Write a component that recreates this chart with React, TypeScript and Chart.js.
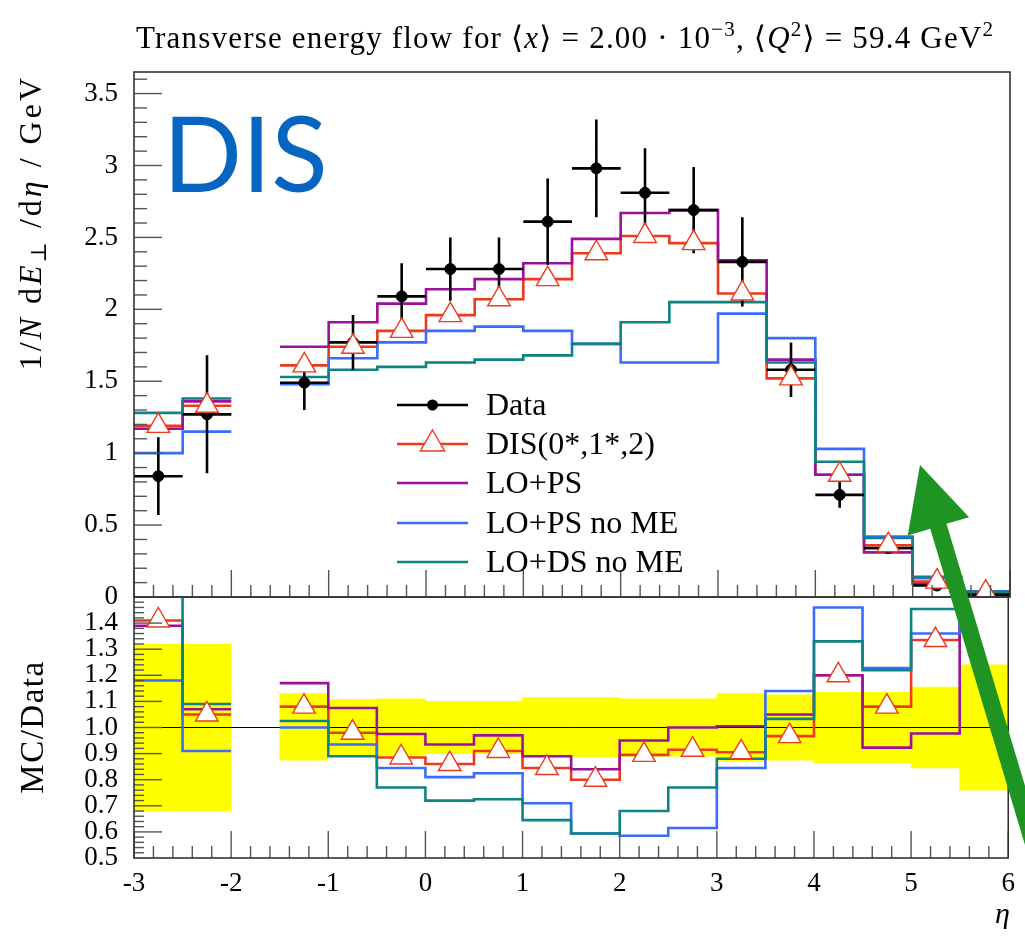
import React, { useEffect, useRef } from 'react';
import { Chart, registerables } from 'chart.js';

Chart.register(...registerables);

// ---------------- data ----------------
const binEdges = [-3, -2.5, -2, -1.5, -1, -0.5, 0, 0.5, 1, 1.5, 2, 2.5, 3, 3.5, 4, 4.5, 5, 5.5, 6];
const binCenters = [-2.75, -2.25, -1.75, -1.25, -0.75, -0.25, 0.25, 0.75, 1.25, 1.75, 2.25, 2.75, 3.25, 3.75, 4.25, 4.75, 5.25, 5.75];

const dataValues = [0.84, 1.27, null, 1.49, 1.77, 2.09, 2.28, 2.28, 2.61, 2.98, 2.81, 2.69, 2.33, 1.58, 0.71, 0.34, 0.08, 0.015];
const dataErrors = [0.27, 0.41, null, 0.19, 0.19, 0.23, 0.22, 0.22, 0.30, 0.34, 0.31, 0.30, 0.31, 0.19, 0.09, 0.03, 0.012, 0.005];
const disValues = [1.19, 1.33, null, 1.61, 1.74, 1.85, 1.96, 2.07, 2.21, 2.39, 2.51, 2.46, 2.11, 1.52, 0.85, 0.36, 0.107, 0.03];
const loPsValues = [1.17, 1.36, null, 1.74, 1.91, 2.04, 2.14, 2.21, 2.32, 2.49, 2.67, 2.69, 2.34, 1.65, 0.85, 0.31, 0.09, 0.02];
const loPsNoMeValues = [1.0, 1.15, null, 1.48, 1.66, 1.77, 1.85, 1.88, 1.85, 1.76, 1.63, 1.63, 1.97, 1.8, 1.03, 0.42, 0.13, 0.04];
const loDsNoMeValues = [1.28, 1.38, null, 1.53, 1.58, 1.6, 1.63, 1.65, 1.68, 1.76, 1.91, 2.05, 2.05, 1.63, 0.94, 0.41, 0.14, 0.037];

const ratioDis = [1.41, 1.05, null, 1.08, 0.98, 0.885, 0.86, 0.91, 0.845, 0.8, 0.895, 0.915, 0.905, 0.967, 1.2, 1.08, 1.335, 2.0];
const ratioLoPs = [1.39, 1.07, null, 1.17, 1.075, 0.975, 0.935, 0.97, 0.89, 0.84, 0.95, 1.0, 1.005, 1.05, 1.2, 0.923, 0.977, 1.7];
const ratioLoPsNoMe = [1.18, 0.91, null, 1.0, 0.935, 0.845, 0.81, 0.825, 0.71, 0.594, 0.585, 0.615, 0.845, 1.14, 1.46, 1.228, 1.36, 2.5];
const ratioLoDsNoMe = [1.52, 1.09, null, 1.025, 0.89, 0.77, 0.72, 0.725, 0.645, 0.594, 0.68, 0.77, 0.88, 1.033, 1.33, 1.22, 1.454, 2.4];
const bandLow = [0.68, 0.68, null, 0.875, 0.893, 0.89, 0.9, 0.9, 0.886, 0.886, 0.89, 0.89, 0.87, 0.875, 0.865, 0.865, 0.845, 0.76];
const bandHigh = [1.32, 1.32, null, 1.13, 1.107, 1.11, 1.1, 1.1, 1.115, 1.115, 1.11, 1.11, 1.13, 1.125, 1.135, 1.135, 1.155, 1.24];

const topTickLabels = [0, 0.5, 1, 1.5, 2, 2.5, 3, 3.5];
const ratioTickLabels = [0.5, 0.6, 0.7, 0.8, 0.9, 1.0, 1.1, 1.2, 1.3, 1.4];
const xTickLabels = [-3, -2, -1, 0, 1, 2, 3, 4, 5, 6];
const legendLabels = ['Data', 'DIS(0*,1*,2)', 'LO+PS', 'LO+PS no ME', 'LO+DS no ME'];

// ---------------- styles ----------------
const C_RED = '#ee3a1c';
const C_PURPLE = '#9b119b';
const C_BLUE = '#3a6cff';
const C_TEAL = '#0d8383';
const legendColors = ['#000000', C_RED, C_PURPLE, C_BLUE, C_TEAL];
const SERIF = '"Liberation Serif", "DejaVu Serif", serif';

// ---------------- helpers ----------------
function stepPoints(values: (number | null)[]) {
  const pts: { x: number; y: number | null }[] = [];
  values.forEach((v, i) => {
    const lo = binEdges[i];
    const hi = binEdges[i + 1];
    if (v === null) {
      pts.push({ x: (lo + hi) / 2, y: null });
      return;
    }
    pts.push({ x: lo, y: v }, { x: hi, y: v });
  });
  return pts;
}

function markerPoints(values: (number | null)[]) {
  const pts: { x: number; y: number }[] = [];
  values.forEach((v, i) => {
    if (v !== null) pts.push({ x: binCenters[i], y: v });
  });
  return pts;
}

function errorBarPoints(values: (number | null)[], errors: (number | null)[]) {
  const pts: { x: number; y: number | null }[] = [];
  values.forEach((v, i) => {
    if (v === null) return;
    const e = errors[i] as number;
    const c = binCenters[i];
    pts.push({ x: binEdges[i], y: v }, { x: binEdges[i + 1], y: v }, { x: c, y: null });
    pts.push({ x: c, y: v - e }, { x: c, y: v + e }, { x: c, y: null });
  });
  return pts;
}

function bandBars() {
  const pts: { x: number; y: [number, number] }[] = [];
  bandLow.forEach((lo, i) => {
    const hi = bandHigh[i];
    if (lo !== null && hi !== null) pts.push({ x: binCenters[i], y: [lo, hi] });
  });
  return pts;
}

const histLine = (label: string, color: string, values: (number | null)[], order: number) => ({
  type: 'line' as const,
  label,
  data: stepPoints(values),
  borderColor: color,
  borderWidth: 2.6,
  pointRadius: 0,
  fill: false,
  spanGaps: false,
  tension: 0,
  order,
});

const triangleSet = (values: (number | null)[]) => ({
  type: 'line' as const,
  label: 'DIS markers',
  data: markerPoints(values),
  showLine: false,
  pointStyle: 'triangle',
  pointRadius: 13,
  pointHoverRadius: 13,
  pointBorderColor: C_RED,
  pointBackgroundColor: '#ffffff',
  pointBorderWidth: 1.4,
  order: 0,
});

// ---------------- plugins ----------------
const rootTicks = {
  id: 'rootTicks',
  afterDatasetsDraw(chart: any, _args: any, opts: any) {
    const { ctx, chartArea: ca, scales } = chart;
    const xs = scales.x;
    const ys = scales.y;
    ctx.save();
    ctx.strokeStyle = '#555';
    ctx.lineWidth = 1.4;
    const seg = (a: number, b: number, c: number, d: number) => {
      ctx.beginPath();
      ctx.moveTo(a, b);
      ctx.lineTo(c, d);
      ctx.stroke();
    };
    const nY = Math.round((opts.yMax - opts.yMin) / opts.yStep);
    for (let i = 0; i <= nY; i++) {
      const v = opts.yMin + i * opts.yStep;
      const py = ys.getPixelForValue(v);
      if (py < ca.top + 1 || py > ca.bottom - 1) continue;
      const len = i % opts.yMajorEvery === 0 ? 28 : opts.yMinorLen;
      seg(ca.left, py, ca.left + len, py);
    }
    for (let i = 0; i <= 45; i++) {
      const v = -3 + i * 0.2;
      const px = xs.getPixelForValue(v);
      const len = i % 5 === 0 ? 27 : 12;
      seg(px, ca.bottom, px, ca.bottom - len);
    }
    ctx.strokeStyle = '#333';
    ctx.lineWidth = 1.6;
    ctx.strokeRect(ca.left, ca.top, ca.right - ca.left, ca.bottom - ca.top);
    ctx.restore();
  },
};

const legendPlugin = {
  id: 'rootLegend',
  afterDraw(chart: any) {
    const ctx = chart.ctx;
    ctx.save();
    const x0 = 397;
    const x1 = 468;
    const xm = 432.5;
    const tx = 486;
    const rows = [405, 444, 483, 523, 562];
    legendLabels.forEach((label, i) => {
      const y = rows[i];
      ctx.strokeStyle = legendColors[i];
      ctx.lineWidth = 2.6;
      ctx.beginPath();
      ctx.moveTo(x0, y);
      ctx.lineTo(x1, y);
      ctx.stroke();
      if (i === 0) {
        ctx.fillStyle = '#000';
        ctx.beginPath();
        ctx.arc(xm, y, 5.5, 0, Math.PI * 2);
        ctx.fill();
      }
      if (i === 1) {
        const r = 14;
        ctx.beginPath();
        ctx.moveTo(xm, y - r);
        ctx.lineTo(xm + 0.866 * r, y + 0.5 * r);
        ctx.lineTo(xm - 0.866 * r, y + 0.5 * r);
        ctx.closePath();
        ctx.fillStyle = '#fff';
        ctx.fill();
        ctx.lineWidth = 1.4;
        ctx.strokeStyle = C_RED;
        ctx.stroke();
      }
      ctx.fillStyle = '#000';
      ctx.font = `32px ${SERIF}`;
      ctx.textBaseline = 'alphabetic';
      ctx.textAlign = 'left';
      ctx.fillText(label, tx, y + 10);
    });
    // big DIS label
    ctx.font = '104px Lato, "Open Sans", sans-serif';
    ctx.fillStyle = '#0565c0';
    ctx.fillText('DIS', 163, 192);
    ctx.restore();
  },
};

// ---------------- component ----------------
export default function App() {
  const topRef = useRef<HTMLCanvasElement | null>(null);
  const botRef = useRef<HTMLCanvasElement | null>(null);

  useEffect(() => {
    document.body.style.margin = '0';
    const tickFont = { family: SERIF, size: 27 };

    const topChart = new Chart(topRef.current as HTMLCanvasElement, {
      type: 'line',
      data: {
        datasets: [
          triangleSet(disValues),
          {
            type: 'line',
            label: 'Data',
            data: markerPoints(dataValues),
            showLine: false,
            pointRadius: 5.5,
            pointHoverRadius: 5.5,
            pointBackgroundColor: '#000',
            pointBorderColor: '#000',
            order: 1,
          },
          {
            type: 'line',
            label: 'Data errors',
            data: errorBarPoints(dataValues, dataErrors),
            borderColor: '#000',
            borderWidth: 2.6,
            pointRadius: 0,
            spanGaps: false,
            order: 2,
          },
          histLine('LO+DS no ME', C_TEAL, loDsNoMeValues, 3),
          histLine('LO+PS no ME', C_BLUE, loPsNoMeValues, 4),
          histLine('LO+PS', C_PURPLE, loPsValues, 5),
          histLine('DIS(0*,1*,2)', C_RED, disValues, 6),
        ] as any,
      },
      options: {
        responsive: false,
        devicePixelRatio: 1,
        animation: false,
        events: [],
        layout: { padding: { left: 0, right: 15, top: 72, bottom: 43 }, autoPadding: false },
        plugins: {
          legend: { display: false },
          tooltip: { enabled: false },
          rootTicks: { yMin: 0, yMax: 3.6, yStep: 0.1, yMajorEvery: 5, yMinorLen: 13 },
        } as any,
        scales: {
          x: { type: 'linear', min: -3, max: 6, offset: false, display: false },
          y: {
            type: 'linear',
            min: 0,
            max: 3.65,
            grid: { display: false, drawTicks: false },
            border: { display: false },
            ticks: {
              font: tickFont,
              color: '#000',
              padding: 16,
              autoSkip: false,
              callback: (v: any) => String(v),
            },
            afterBuildTicks: (s: any) => {
              s.ticks = topTickLabels.map((v) => ({ value: v }));
            },
            afterFit: (s: any) => {
              s.width = 134;
            },
          },
        },
      },
      plugins: [rootTicks, legendPlugin],
    });

    const botChart = new Chart(botRef.current as HTMLCanvasElement, {
      type: 'line',
      data: {
        datasets: [
          triangleSet(ratioDis),
          histLine('LO+DS no ME', C_TEAL, ratioLoDsNoMe, 3),
          histLine('LO+PS no ME', C_BLUE, ratioLoPsNoMe, 4),
          histLine('LO+PS', C_PURPLE, ratioLoPs, 5),
          histLine('DIS(0*,1*,2)', C_RED, ratioDis, 6),
          {
            type: 'line',
            label: 'unity',
            data: [
              { x: -3, y: 1 },
              { x: 6, y: 1 },
            ],
            borderColor: '#000',
            borderWidth: 1,
            pointRadius: 0,
            order: 7,
          },
          {
            type: 'bar',
            label: 'Data uncertainty',
            data: bandBars(),
            backgroundColor: '#ffff00',
            borderWidth: 0,
            barPercentage: 1,
            categoryPercentage: 1,
            grouped: false,
            order: 8,
          },
        ] as any,
      },
      options: {
        responsive: false,
        devicePixelRatio: 1,
        animation: false,
        events: [],
        layout: { padding: { left: 0, right: 15, top: 37, bottom: 0 }, autoPadding: false },
        plugins: {
          legend: { display: false },
          tooltip: { enabled: false },
          rootTicks: { yMin: 0.5, yMax: 1.5, yStep: 0.02, yMajorEvery: 5, yMinorLen: 10 },
        } as any,
        scales: {
          x: {
            type: 'linear',
            min: -3,
            max: 6,
            offset: false,
            grid: { display: false, drawTicks: false },
            border: { display: false },
            ticks: {
              font: tickFont,
              color: '#000',
              padding: 10,
              autoSkip: false,
              maxRotation: 0,
              callback: (v: any) => String(v),
            },
            afterBuildTicks: (s: any) => {
              s.ticks = xTickLabels.map((v) => ({ value: v }));
            },
            afterFit: (s: any) => {
              s.height = 84;
            },
          },
          y: {
            type: 'linear',
            min: 0.5,
            max: 1.5,
            grid: { display: false, drawTicks: false },
            border: { display: false },
            ticks: {
              font: tickFont,
              color: '#000',
              padding: 16,
              autoSkip: false,
              callback: (v: any) => Number(v).toFixed(1),
            },
            afterBuildTicks: (s: any) => {
              s.ticks = ratioTickLabels.map((v) => ({ value: v }));
            },
            afterFit: (s: any) => {
              s.width = 134;
            },
          },
        },
      },
      plugins: [rootTicks],
    });

    return () => {
      topChart.destroy();
      botChart.destroy();
    };
  }, []);

  // arrow annotation geometry
  const tip = { x: 920, y: 465 };
  const d = { x: 0.287, y: 0.958 };
  const n = { x: 0.958, y: -0.287 };
  const B = { x: tip.x + 64 * d.x, y: tip.y + 64 * d.y };
  const E = { x: tip.x + 440 * d.x, y: tip.y + 440 * d.y };
  const P = (p: { x: number; y: number }, k: number) => `${p.x + k * n.x},${p.y + k * n.y}`;
  const arrowPts = [`${tip.x},${tip.y}`, P(B, 32), P(B, 8.5), P(E, 8.5), P(E, -8.5), P(B, -8.5), P(B, -32)].join(' ');

  const supStyle: React.CSSProperties = { fontSize: '0.68em', verticalAlign: '0.55em', lineHeight: 0 };
  const subStyle: React.CSSProperties = { fontSize: '0.68em', verticalAlign: '-0.25em', lineHeight: 0 };

  return (
    <div style={{ position: 'relative', width: 1025, height: 942, overflow: 'hidden', background: '#fff' }}>
      <canvas ref={topRef} width={1025} height={640} style={{ position: 'absolute', left: 0, top: 0, display: 'block' }} />
      <canvas ref={botRef} width={1025} height={382} style={{ position: 'absolute', left: 0, top: 560, display: 'block' }} />
      <div
        style={{
          position: 'absolute',
          left: 136,
          top: 20,
          fontFamily: SERIF,
          fontSize: 31,
          letterSpacing: '1.2px',
          lineHeight: '36px',
          whiteSpace: 'nowrap',
          color: '#000',
        }}
      >
        Transverse energy flow for ⟨<i>x</i>⟩ = 2.00 · 10<span style={supStyle}>−3</span>, ⟨<i>Q</i>
        <span style={supStyle}>2</span>⟩ = 59.4 GeV<span style={supStyle}>2</span>
      </div>
      <div
        style={{
          position: 'absolute',
          left: 12,
          top: 475,
          width: 400,
          height: 36,
          lineHeight: '36px',
          transformOrigin: '0 0',
          transform: 'rotate(-90deg)',
          textAlign: 'right',
          fontFamily: SERIF,
          fontSize: 32,
          letterSpacing: '3px',
          whiteSpace: 'nowrap',
        }}
      >
        1/<i>N</i> d<i>E</i>
        <span style={subStyle}>⊥</span> /d<i>η</i> / GeV
      </div>
      <div
        style={{
          position: 'absolute',
          left: 14,
          top: 877,
          width: 300,
          height: 36,
          lineHeight: '36px',
          transformOrigin: '0 0',
          transform: 'rotate(-90deg)',
          textAlign: 'center',
          fontFamily: SERIF,
          fontSize: 33,
          letterSpacing: '1.5px',
          whiteSpace: 'nowrap',
        }}
      >
        MC/Data
      </div>
      <div
        style={{
          position: 'absolute',
          right: 15,
          top: 896,
          fontFamily: SERIF,
          fontStyle: 'italic',
          fontSize: 30,
          lineHeight: '34px',
        }}
      >
        η
      </div>
      <svg width={1025} height={942} style={{ position: 'absolute', left: 0, top: 0, pointerEvents: 'none' }}>
        <polygon points={arrowPts} fill="#1f9423" />
      </svg>
    </div>
  );
}
